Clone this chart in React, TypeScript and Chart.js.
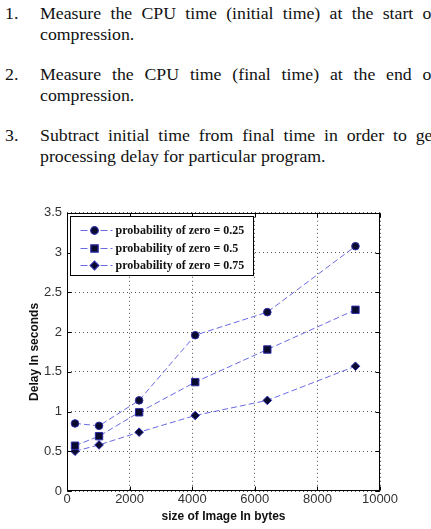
import React, { useEffect, useRef } from 'react';
import { Chart, registerables } from 'chart.js';
import { drawPoint } from 'chart.js/helpers';

Chart.register(...registerables);

// ---- data ----
const imageSizes = [256, 1024, 2304, 4096, 6400, 9216];
const delayP025 = [0.85, 0.82, 1.14, 1.96, 2.25, 3.08];
const delayP050 = [0.57, 0.69, 0.99, 1.37, 1.78, 2.28];
const delayP075 = [0.5, 0.58, 0.74, 0.95, 1.14, 1.57];
const seriesLabels = [
  'probability of zero = 0.25',
  'probability of zero = 0.5',
  'probability of zero = 0.75',
];
const xTicks = [0, 2000, 4000, 6000, 8000, 10000];
const yTicks = [0, 0.5, 1, 1.5, 2, 2.5, 3, 3.5];
const xTitle = 'size of Image In bytes';
const yTitle = 'Delay In seconds';

const paragraphs = [
  { num: '1.', lines: ['Measure the CPU time (initial time) at the start of', 'compression.'] },
  { num: '2.', lines: ['Measure the CPU time (final time) at the end of', 'compression.'] },
  { num: '3.', lines: ['Subtract initial time from final time in order to get', 'processing delay for particular program.'] },
];

const LINE_COLOR = '#6a6ae2';
const MARK_FILL = '#0a0a2e';
const MARK_EDGE = '#2a2aa8';
const pointStyles = ['circle', 'rect', 'rectRot'];
const pointRadii = [3.8, 5.2, 4.3];
const seriesValues = [delayP025, delayP050, delayP075];

const framePlugin = {
  id: 'frameAndLegend',
  afterDraw(chart: any) {
    const { ctx, chartArea: a, scales } = chart;
    ctx.save();
    ctx.setLineDash([]);
    ctx.strokeStyle = '#000';
    ctx.lineWidth = 1;
    const L = Math.round(a.left) + 0.5;
    const R = Math.round(a.right) - 0.5;
    const T = Math.round(a.top) + 0.5;
    const B = Math.round(a.bottom) - 0.5;
    ctx.strokeRect(L, T, R - L, B - T);
    const tl = 4;
    ctx.beginPath();
    for (const v of xTicks) {
      const px = Math.round(scales.x.getPixelForValue(v)) + 0.5;
      ctx.moveTo(px, B);
      ctx.lineTo(px, B - tl);
      ctx.moveTo(px, T);
      ctx.lineTo(px, T + tl);
    }
    for (const v of yTicks) {
      const py = Math.round(scales.y.getPixelForValue(v)) + 0.5;
      ctx.moveTo(L, py);
      ctx.lineTo(L + tl, py);
      ctx.moveTo(R, py);
      ctx.lineTo(R - tl, py);
    }
    ctx.stroke();

    // legend box
    const bx = L + 3;
    const by = T + 3;
    const bw = 183;
    const bh = 59;
    ctx.fillStyle = '#fff';
    ctx.fillRect(bx, by, bw, bh);
    ctx.strokeRect(bx, by, bw, bh);
    const rowYs = [by + 13, by + 31, by + 48];
    chart.data.datasets.forEach((ds: any, i: number) => {
      const y = Math.round(rowYs[i]) + 0.5;
      ctx.save();
      ctx.strokeStyle = ds.borderColor;
      ctx.lineWidth = 1.2;
      ctx.setLineDash([7, 3]);
      ctx.beginPath();
      ctx.moveTo(bx + 10, y);
      ctx.lineTo(bx + 42, y);
      ctx.stroke();
      ctx.setLineDash([]);
      ctx.fillStyle = ds.pointBackgroundColor;
      ctx.strokeStyle = ds.pointBorderColor;
      drawPoint(ctx, { pointStyle: ds.pointStyle, radius: ds.pointRadius, rotation: 0, borderWidth: 1 }, bx + 24, y);
      ctx.restore();
      ctx.fillStyle = '#111';
      ctx.font = "bold 12px 'Liberation Serif'";
      ctx.textBaseline = 'middle';
      ctx.textAlign = 'left';
      ctx.fillText(ds.label, bx + 45, y);
    });
    ctx.restore();
  },
};

function ChartView() {
  const ref = useRef<HTMLCanvasElement | null>(null);
  useEffect(() => {
    if (!ref.current) return;
    const datasets = seriesValues.map((vals, i) => ({
      label: seriesLabels[i],
      data: imageSizes.map((x, j) => ({ x, y: vals[j] })),
      showLine: true,
      borderColor: LINE_COLOR,
      borderWidth: 1,
      borderDash: [6, 3],
      pointStyle: pointStyles[i],
      pointRadius: pointRadii[i],
      pointBackgroundColor: MARK_FILL,
      pointBorderColor: MARK_EDGE,
      pointBorderWidth: 1,
      fill: false,
    }));
    const tickFont = { family: "'Liberation Sans Narrow', 'Liberation Sans'", size: 13 };
    const chart = new Chart(ref.current, {
      type: 'scatter',
      data: { datasets },
      plugins: [framePlugin],
      options: {
        animation: false,
        responsive: false,
        devicePixelRatio: 1,
        layout: { padding: { top: 12, right: 51, left: 0, bottom: 0 } },
        plugins: { legend: { display: false }, tooltip: { enabled: false } },
        scales: {
          x: {
            type: 'linear',
            min: 0,
            max: 10000,
            afterBuildTicks: (s: any) => {
              s.ticks = xTicks.map((v) => ({ value: v }));
            },
            afterFit: (s: any) => {
              s.height = 38;
            },
            ticks: {
              callback: (v: any) => String(v),
              font: tickFont,
              color: '#333',
              padding: 1,
              maxRotation: 0,
            },
            grid: { color: '#555', lineWidth: 1, drawTicks: false },
            border: { display: false, dash: [1, 3] },
            title: {
              display: true,
              text: xTitle,
              font: { family: "'Liberation Sans'", size: 12, weight: 'bold' },
              color: '#111',
              padding: { top: 0, bottom: 5 },
            },
          },
          y: {
            type: 'linear',
            min: 0,
            max: 3.5,
            afterBuildTicks: (s: any) => {
              s.ticks = yTicks.map((v) => ({ value: v }));
            },
            afterFit: (s: any) => {
              s.width = 67;
            },
            ticks: {
              callback: (v: any) => String(v),
              font: tickFont,
              color: '#333',
              padding: 5,
            },
            grid: { color: '#555', lineWidth: 1, drawTicks: false },
            border: { display: false, dash: [1, 3] },
            title: {
              display: true,
              text: yTitle,
              font: { family: "'Liberation Sans'", size: 12, weight: 'bold' },
              color: '#111',
              padding: { top: 27, bottom: 0 },
            },
          },
        },
      },
    } as any);
    return () => chart.destroy();
  }, []);
  return (
    <canvas
      ref={ref}
      width={431}
      height={329}
      style={{ position: 'absolute', left: 0, top: 200, width: 431, height: 329 }}
    />
  );
}

const paraTops = [3.6, 64.6, 126.3];

export default function App() {
  const textStyle: React.CSSProperties = {
    position: 'absolute',
    fontFamily: "'Liberation Serif', 'Times New Roman', serif",
    fontSize: 16,
    lineHeight: '20px',
    color: '#111',
    transform: 'scaleX(1.11)',
    transformOrigin: 'left top',
    whiteSpace: 'normal',
  };
  return (
    <div
      style={{
        position: 'fixed',
        left: 0,
        top: 0,
        width: 431,
        height: 529,
        overflow: 'hidden',
        background: '#fff',
      }}
    >
      {paragraphs.map((p, i) => (
        <React.Fragment key={i}>
          <div style={{ ...textStyle, left: 5, top: paraTops[i] }}>{p.num}</div>
          {p.lines.map((line, j) => (
            <div
              key={j}
              style={{
                ...textStyle,
                left: 40,
                top: paraTops[i] + j * 21,
                width: 358,
                textAlign: 'justify',
                textAlignLast: j < p.lines.length - 1 ? 'justify' : 'left',
              }}
            >
              {line}
            </div>
          ))}
        </React.Fragment>
      ))}
      <ChartView />
    </div>
  );
}
